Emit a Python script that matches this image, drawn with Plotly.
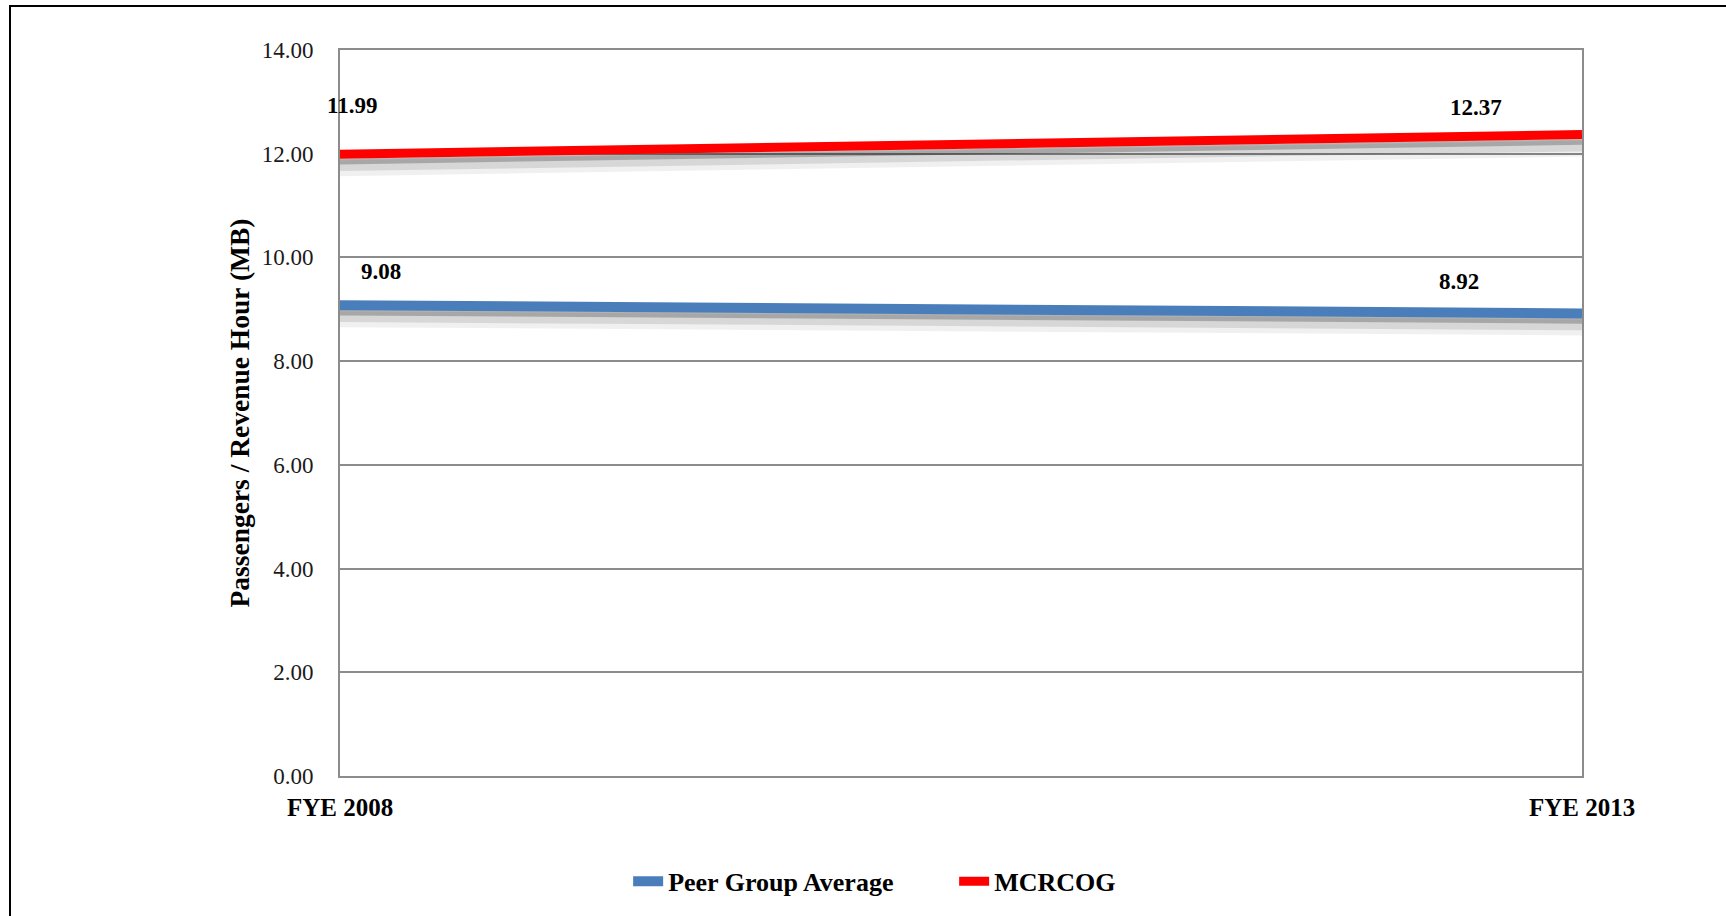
import plotly.graph_objects as go

# Fiscal years shown on the x axis
years = ["FYE 2008", "FYE 2013"]

# Passengers per revenue hour (motor bus)
peer_group_avg = [9.08, 8.92]
mcrcog = [11.99, 12.37]

y_ticks = [0, 2, 4, 6, 8, 10, 12, 14]

FONT = "Liberation Serif"
GRID = "#8c8c8c"
BLUE = "#4a7ebb"
RED = "#ff0000"

fig = go.Figure()

# soft drop shadow beneath each series line
for series in (peer_group_avg, mcrcog):
    for off, w, a in ((0.27, 16, 0.06), (0.21, 12, 0.10), (0.14, 6, 0.22)):
        fig.add_trace(go.Scatter(
            x=years, y=[v - off for v in series], mode="lines",
            line=dict(color=f"rgba(0,0,0,{a})", width=w),
            showlegend=False, hoverinfo="skip"))

fig.add_trace(go.Scatter(
    x=years, y=peer_group_avg, mode="lines", name="<b>Peer Group Average</b>",
    line=dict(color=BLUE, width=10)))
fig.add_trace(go.Scatter(
    x=years, y=mcrcog, mode="lines", name="<b>MCRCOG</b>",
    line=dict(color=RED, width=9)))

# value labels at each end of the lines
label_font = dict(family=FONT, size=23, color="black")
label_shifts = {
    ("MCRCOG", 0): (12, 49), ("MCRCOG", 1): (-106, 27),
    ("Peer", 0): (41, 34), ("Peer", 1): (-123, 32),
}
for key, series in (("MCRCOG", mcrcog), ("Peer", peer_group_avg)):
    for i, v in enumerate(series):
        dx, dy = label_shifts[(key, i)]
        fig.add_annotation(
            x=years[i], y=v, text=f"<b>{v:.2f}</b>", showarrow=False,
            xshift=dx, yshift=dy, font=label_font)

fig.update_layout(
    width=1726, height=916,
    margin=dict(l=340, r=144, t=50, b=140, autoexpand=False),
    paper_bgcolor="white", plot_bgcolor="white",
    font=dict(family=FONT, color="black"),
    showlegend=True,
    legend=dict(
        orientation="h", x=0.232, xanchor="left", y=-0.145, yanchor="middle",
        font=dict(family=FONT, size=26, color="black"),
        entrywidth=281, entrywidthmode="pixels",
        itemclick=False, itemdoubleclick=False,
        traceorder="normal",
    ),
    xaxis=dict(
        type="category", range=[0, 1], showgrid=False,
        showline=True, linecolor=GRID, linewidth=2, mirror=True,
        ticks="outside", ticklen=8, tickcolor="rgba(0,0,0,0)",
        tickfont=dict(family=FONT, size=25, color="black"),
        tickvals=years, ticktext=[f"<b>{t}</b>" for t in years],
        zeroline=False, automargin=False,
    ),
    yaxis=dict(
        range=[0, 14], tickvals=y_ticks, tickformat=".2f",
        showgrid=True, gridcolor=GRID, gridwidth=1.5,
        showline=True, linecolor=GRID, linewidth=2, mirror=True,
        ticks="outside", ticklen=20, tickcolor="rgba(0,0,0,0)",
        tickfont=dict(family=FONT, size=23, color="#1a1a1a"),
        zeroline=False, automargin=False,
        title=dict(text="<b>Passengers / Revenue Hour (MB)</b>",
                   font=dict(family=FONT, size=27.5, color="black"),
                   standoff=4),
    ),
)

# outer frame around the chart
fig.add_shape(type="rect", xref="paper", yref="paper",
              x0=(10 - 340) / 1242, x1=1.2, y0=-0.3, y1=1 + (50 - 6) / 726,
              line=dict(color="black", width=2), layer="below")

fig.write_html("out.html")
